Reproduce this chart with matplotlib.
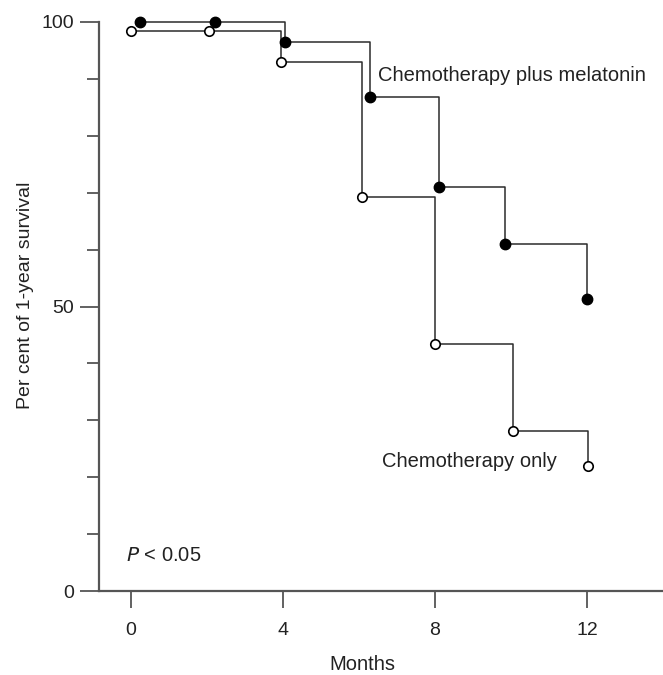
import matplotlib
matplotlib.use("Agg")
import matplotlib.pyplot as plt

plt.rcParams['font.family'] = ['Liberation Sans', 'DejaVu Sans']

# Kaplan-Meier style step data (months, % surviving)
mel_months = [0.24, 2.2, 4.05, 6.3, 8.1, 9.85, 12.0]
mel_surv = [100, 100, 96.4, 86.8, 71.0, 61.0, 51.4]

chemo_months = [0.0, 2.05, 3.95, 6.08, 7.99, 10.05, 12.02]
chemo_surv = [98.5, 98.5, 93.0, 69.2, 43.4, 28.2, 22.0]

x_ticks = [0, 4, 8, 12]
y_major = [0, 50, 100]
y_minor = [10, 20, 30, 40, 60, 70, 80, 90]


def do_plot():
    f = plt.figure(figsize=(6.63, 6.75), dpi=100)
    ax = f.add_axes([99 / 663, 84 / 675, 1 - 99 / 663, (591 - 22) / 675])

    line_c = '#2b2b2b'
    ax.plot(mel_months, mel_surv, drawstyle='steps-post', color=line_c, lw=1.1,
            clip_on=False, zorder=2)
    ax.plot(mel_months, mel_surv, 'o', ms=7.5, color='black', mec='black',
            clip_on=False, zorder=3)

    ax.plot(chemo_months, chemo_surv, drawstyle='steps-post', color=line_c, lw=1.1,
            clip_on=False, zorder=2)
    ax.plot(chemo_months, chemo_surv, 'o', ms=6.8, mfc='white', mec='black', mew=1.2,
            clip_on=False, zorder=3)

    ax.set_xlim(-0.84, 14.0)
    ax.set_ylim(0, 100)

    for s in ['top', 'right']:
        ax.spines[s].set_visible(False)
    for s in ['left', 'bottom']:
        ax.spines[s].set_color('#555555')
        ax.spines[s].set_linewidth(1.6)

    ax.set_xticks(x_ticks)
    ax.set_xticklabels([str(v) for v in x_ticks], fontsize=14, color='#222222')
    ax.set_yticks(y_major)
    ax.set_yticklabels([str(v) for v in y_major], fontsize=14, color='#222222')
    ax.set_yticks(y_minor, minor=True)
    ax.tick_params(axis='y', which='major', direction='out', length=14, width=1.3,
                   color='#555555', pad=4)
    ax.tick_params(axis='y', which='minor', direction='out', length=9, width=1.3,
                   color='#555555')
    ax.tick_params(axis='x', which='major', direction='out', length=12, width=1.3,
                   color='#555555', pad=10)

    ax.text(6.5, 90.6, 'Chemotherapy plus melatonin', fontsize=14.5, color='#222222',
            va='center', ha='left')
    ax.text(6.6, 22.7, 'Chemotherapy only', fontsize=14.5, color='#222222',
            va='center', ha='left')
    ax.text(-0.12, 6.3, r'$P$' + ' < 0.05', fontsize=14.5, color='#222222',
            va='center', ha='left')

    ax.set_ylabel('Per cent of 1-year survival', fontsize=14, color='#222222')
    ax.yaxis.set_label_coords(-0.115, 0.52)
    f.text(362 / 663, 1 - 665 / 675, 'Months', fontsize=14.5, color='#222222',
           ha='center', va='center')

    plt.savefig('out.png', dpi=100)


if __name__ == '__main__':
    do_plot()
